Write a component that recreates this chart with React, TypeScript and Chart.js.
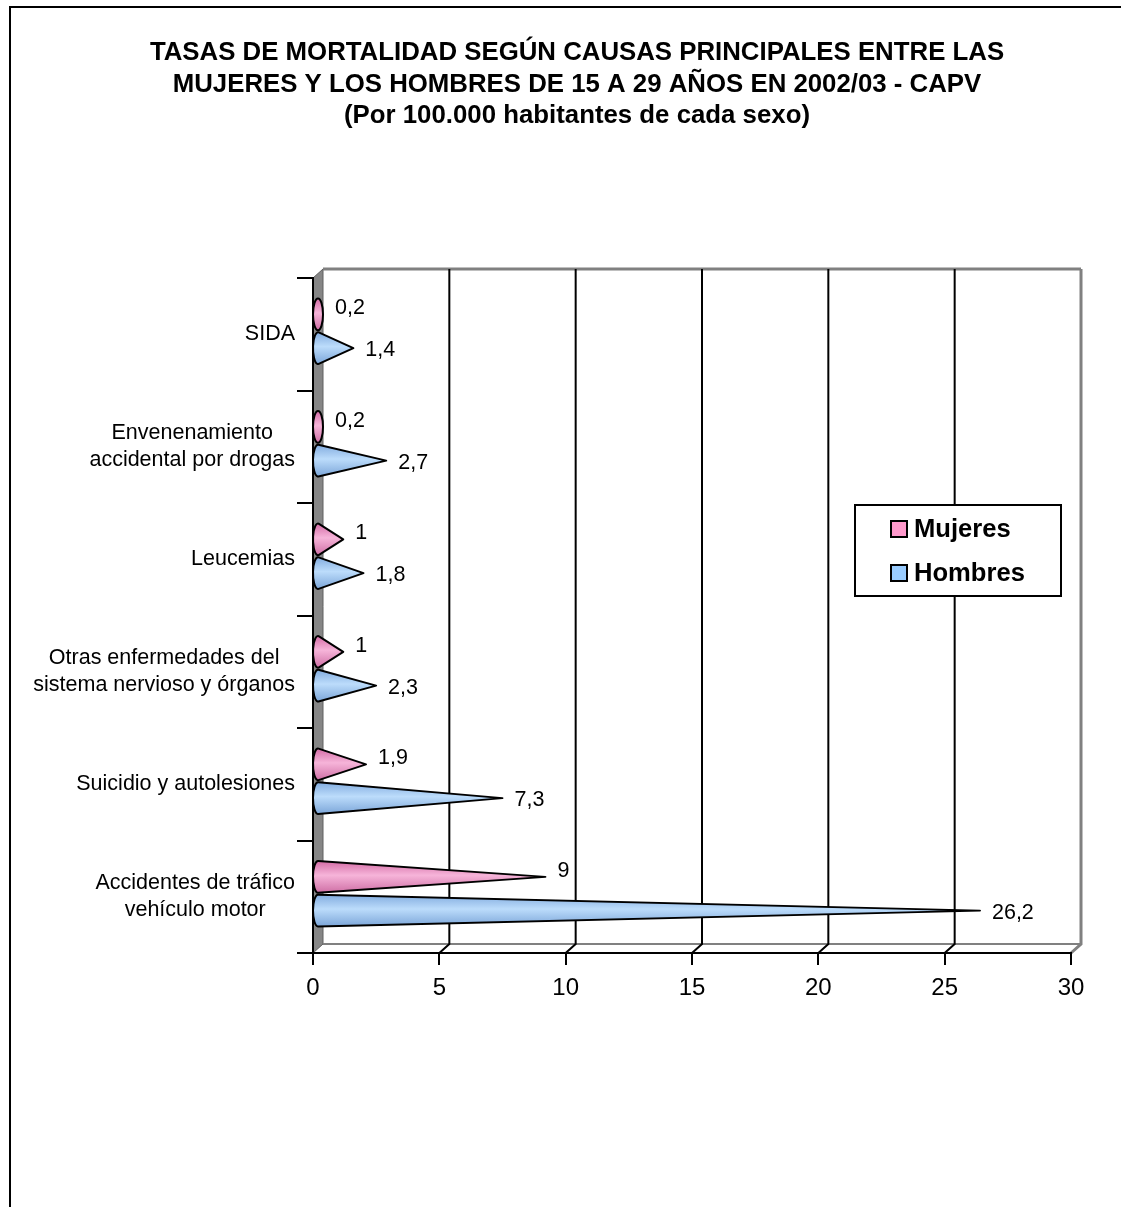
import React, { useEffect, useRef } from "react";
import { Chart, registerables } from "chart.js";

Chart.register(...registerables);

const FONT = "Arial, 'Liberation Sans', Helvetica, sans-serif";

const titleLines = [
  "TASAS DE MORTALIDAD SEGÚN CAUSAS PRINCIPALES ENTRE LAS",
  "MUJERES Y LOS HOMBRES DE 15 A 29 AÑOS EN 2002/03 - CAPV",
  "(Por 100.000 habitantes de cada sexo)",
];

const categories: string[][] = [
  ["SIDA"],
  ["Envenenamiento", "accidental por drogas"],
  ["Leucemias"],
  ["Otras enfermedades del", "sistema nervioso y órganos"],
  ["Suicidio y autolesiones"],
  ["Accidentes de tráfico", "vehículo motor"],
];

const seriesNames = ["Mujeres", "Hombres"];
const mujeres = [0.2, 0.2, 1, 1, 1.9, 9];
const hombres = [1.4, 2.7, 1.8, 2.3, 7.3, 26.2];

const xMin = 0;
const xMax = 30;
const xStep = 5;

const swatchColors = ["#FF99CC", "#99CCFF"];
const coneStops = [
  ["#D46CA6", "#F6B4D9", "#CF6FA5"],
  ["#82ACDF", "#BCDCFB", "#7CA6D9"],
];

const DX = 10;
const DY = 9;

const formatValue = (v: number) => String(v).replace(".", ",");

function drawCone(
  ctx: CanvasRenderingContext2D,
  bx: number,
  tx: number,
  cy: number,
  ry: number,
  stops: string[]
) {
  const rx = 5;
  const d = tx - bx;
  const grad = ctx.createLinearGradient(0, cy - ry, 0, cy + ry);
  grad.addColorStop(0, stops[0]);
  grad.addColorStop(0.45, stops[1]);
  grad.addColorStop(1, stops[2]);
  ctx.save();
  ctx.beginPath();
  if (d <= rx + 0.5) {
    ctx.ellipse(bx, cy, rx, ry, 0, 0, Math.PI * 2);
  } else {
    const t0 = Math.acos(rx / d);
    ctx.moveTo(tx, cy);
    ctx.ellipse(bx, cy, rx, ry, 0, -t0, t0, true);
    ctx.closePath();
  }
  ctx.fillStyle = grad;
  ctx.fill();
  ctx.lineWidth = 2;
  ctx.lineJoin = "round";
  ctx.strokeStyle = "#000";
  ctx.stroke();
  ctx.restore();
}

const excel3d = {
  id: "excel3d",
  beforeDraw(chart: any) {
    const ctx: CanvasRenderingContext2D = chart.ctx;
    const { left, right, top, bottom } = chart.chartArea;
    const xs = chart.scales.x;
    ctx.save();
    ctx.fillStyle = "#fff";
    ctx.fillRect(0, 0, chart.width, chart.height);

    // outer frame
    ctx.strokeStyle = "#000";
    ctx.lineWidth = 2;
    ctx.beginPath();
    ctx.moveTo(10, chart.height);
    ctx.lineTo(10, 7);
    ctx.lineTo(chart.width, 7);
    ctx.stroke();

    // title
    ctx.fillStyle = "#000";
    ctx.font = `bold 25.8px ${FONT}`;
    ctx.textAlign = "center";
    ctx.textBaseline = "middle";
    titleLines.forEach((t, i) => ctx.fillText(t, 577, 53 + i * 31.5));

    // left wall
    ctx.fillStyle = "#868686";
    ctx.beginPath();
    ctx.moveTo(left, top);
    ctx.lineTo(left + DX, top - DY);
    ctx.lineTo(left + DX, bottom - DY);
    ctx.lineTo(left, bottom);
    ctx.closePath();
    ctx.fill();
    ctx.strokeStyle = "#606060";
    ctx.lineWidth = 1;
    ctx.stroke();

    // back wall top edge and floor back edge
    ctx.strokeStyle = "#808080";
    ctx.lineWidth = 3;
    ctx.beginPath();
    ctx.moveTo(left + DX, top - DY);
    ctx.lineTo(right + DX, top - DY);
    ctx.stroke();
    ctx.lineWidth = 2;
    ctx.beginPath();
    ctx.moveTo(left + DX, bottom - DY);
    ctx.lineTo(right + DX, bottom - DY);
    ctx.stroke();

    // gridlines on back wall + floor diagonals
    xs.ticks.forEach((t: any) => {
      if (t.value <= xMin) return;
      const xf = xs.getPixelForValue(t.value);
      const xb = xf + DX;
      const last = t.value >= xMax;
      ctx.strokeStyle = last ? "#808080" : "#000";
      ctx.lineWidth = last ? 3 : 2;
      ctx.beginPath();
      ctx.moveTo(xb, top - DY);
      ctx.lineTo(xb, bottom - DY);
      ctx.lineTo(xf, bottom);
      ctx.stroke();
    });
    ctx.restore();
  },
  afterDatasetsDraw(chart: any) {
    const ctx: CanvasRenderingContext2D = chart.ctx;
    const xs = chart.scales.x;
    const x0 = xs.getPixelForValue(0) + DX / 2;
    const labels: { text: string; x: number; y: number }[] = [];
    chart.data.datasets.forEach((ds: any, di: number) => {
      const meta = chart.getDatasetMeta(di);
      meta.data.forEach((el: any, j: number) => {
        const cy = el.y - 3;
        const ry = el.height / 2 - 1;
        const tx = el.x + DX / 2;
        drawCone(ctx, x0, tx, cy, ry, coneStops[di]);
        labels.push({
          text: formatValue(ds.data[j]),
          x: tx + 12,
          y: cy + (di === 0 ? -6 : 2),
        });
      });
    });
    ctx.save();
    ctx.fillStyle = "#000";
    ctx.font = `21.5px ${FONT}`;
    ctx.textAlign = "left";
    ctx.textBaseline = "middle";
    labels.forEach((l) => ctx.fillText(l.text, l.x, l.y));
    ctx.restore();
  },
  afterDraw(chart: any) {
    const ctx: CanvasRenderingContext2D = chart.ctx;
    const ys = chart.scales.y;
    const { left } = chart.chartArea;
    ctx.save();
    // category labels: block right-aligned, lines centered within block
    ctx.fillStyle = "#000";
    ctx.font = `21.5px ${FONT}`;
    ctx.textAlign = "center";
    ctx.textBaseline = "middle";
    const rightX = left - 18;
    const lh = 27;
    categories.forEach((lines, i) => {
      const cy = ys.getPixelForValue(i);
      const maxW = Math.max(...lines.map((s) => ctx.measureText(s).width));
      const cx = rightX - maxW / 2;
      lines.forEach((s, k) => {
        ctx.fillText(s, cx, cy + (k - (lines.length - 1) / 2) * lh);
      });
    });

    // legend
    const bx = 855, by = 505, bw = 206, bh = 91;
    ctx.fillStyle = "#fff";
    ctx.fillRect(bx, by, bw, bh);
    ctx.strokeStyle = "#000";
    ctx.lineWidth = 2;
    ctx.strokeRect(bx, by, bw, bh);
    ctx.font = `bold 25.6px ${FONT}`;
    ctx.textAlign = "left";
    ctx.textBaseline = "middle";
    seriesNames.forEach((name, i) => {
      const cy = 529 + i * 44;
      ctx.fillStyle = swatchColors[i];
      ctx.fillRect(891, cy - 8, 16, 16);
      ctx.strokeStyle = "#000";
      ctx.lineWidth = 2;
      ctx.strokeRect(891, cy - 8, 16, 16);
      ctx.fillStyle = "#000";
      ctx.fillText(name, 914, cy + 1);
    });
    ctx.restore();
  },
};

export default function App() {
  const ref = useRef<HTMLCanvasElement>(null);
  useEffect(() => {
    const chart = new Chart(ref.current as HTMLCanvasElement, {
      type: "bar",
      data: {
        labels: categories.map((c) => c.join(" ")),
        datasets: [
          {
            label: seriesNames[0],
            data: mujeres,
            backgroundColor: "rgba(0,0,0,0)",
            borderWidth: 0,
            categoryPercentage: 0.6,
            barPercentage: 1,
          },
          {
            label: seriesNames[1],
            data: hombres,
            backgroundColor: "rgba(0,0,0,0)",
            borderWidth: 0,
            categoryPercentage: 0.6,
            barPercentage: 1,
          },
        ],
      },
      options: {
        indexAxis: "y",
        responsive: false,
        animation: false,
        devicePixelRatio: 1,
        events: [],
        layout: { padding: { left: 20, right: 50, top: 278, bottom: 194 } },
        plugins: {
          legend: { display: false },
          tooltip: { enabled: false },
          title: { display: false },
        },
        scales: {
          x: {
            type: "linear",
            min: xMin,
            max: xMax,
            ticks: {
              stepSize: xStep,
              color: "#000",
              padding: 9,
              font: { family: FONT, size: 24 },
            },
            grid: {
              drawOnChartArea: false,
              drawTicks: true,
              tickLength: 12,
              color: "#000",
              lineWidth: 2,
            },
            border: { display: true, color: "#000", width: 2 },
            afterFit: (s: any) => {
              s.height = 60;
            },
          },
          y: {
            type: "category",
            offset: true,
            ticks: { display: false },
            grid: {
              offset: true,
              drawOnChartArea: false,
              drawTicks: true,
              tickLength: 16,
              color: "#000",
              lineWidth: 2,
            },
            border: { display: true, color: "#000", width: 2 },
            afterFit: (s: any) => {
              s.width = 293;
            },
          },
        },
      },
      plugins: [excel3d],
    } as any);
    return () => chart.destroy();
  }, []);
  return (
    <div
      style={{
        position: "absolute",
        left: 0,
        top: 0,
        width: 1121,
        height: 1207,
        background: "#fff",
      }}
    >
      <canvas
        ref={ref}
        width={1121}
        height={1207}
        style={{ display: "block", width: 1121, height: 1207 }}
      />
    </div>
  );
}
